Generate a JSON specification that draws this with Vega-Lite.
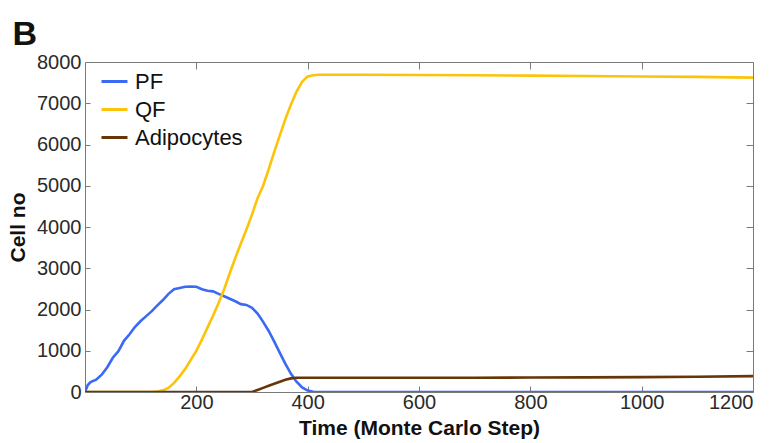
{
  "$schema": "https://vega.github.io/schema/vega-lite/v6.json",
  "width": 668,
  "height": 330,
  "padding": {"left": 7, "top": 18, "right": 27, "bottom": 4},
  "background": "white",
  "config": {
    "font": "Liberation Sans",
    "view": {"stroke": null},
    "axis": {"grid": false, "domainColor": "#7a7a7a", "tickColor": "#7a7a7a", "labelColor": "#2a2a2a", "titleColor": "#111111", "labelFont": "Liberation Sans", "titleFont": "Liberation Sans"}
  },
  "title": {"text": "B", "fontSize": 34, "fontWeight": "bold", "anchor": "start", "frame": "bounds", "offset": 0, "dx": 5, "color": "#111111"},
  "data": {
    "values": [
      {"t": 0, "PF": 0, "QF": 0, "Adipocytes": 0},
      {"t": 5, "PF": 170, "QF": 0, "Adipocytes": 0},
      {"t": 10, "PF": 240, "QF": 0, "Adipocytes": 0},
      {"t": 20, "PF": 300, "QF": 0, "Adipocytes": 0},
      {"t": 30, "PF": 420, "QF": 0, "Adipocytes": 0},
      {"t": 40, "PF": 600, "QF": 0, "Adipocytes": 0},
      {"t": 50, "PF": 830, "QF": 0, "Adipocytes": 0},
      {"t": 60, "PF": 990, "QF": 0, "Adipocytes": 0},
      {"t": 70, "PF": 1240, "QF": 0, "Adipocytes": 0},
      {"t": 80, "PF": 1400, "QF": 0, "Adipocytes": 0},
      {"t": 90, "PF": 1580, "QF": 0, "Adipocytes": 0},
      {"t": 100, "PF": 1720, "QF": 0, "Adipocytes": 0},
      {"t": 110, "PF": 1840, "QF": 0, "Adipocytes": 0},
      {"t": 120, "PF": 1960, "QF": 0, "Adipocytes": 0},
      {"t": 130, "PF": 2100, "QF": 10, "Adipocytes": 0},
      {"t": 140, "PF": 2230, "QF": 40, "Adipocytes": 0},
      {"t": 150, "PF": 2380, "QF": 100, "Adipocytes": 0},
      {"t": 160, "PF": 2490, "QF": 220, "Adipocytes": 0},
      {"t": 170, "PF": 2520, "QF": 380, "Adipocytes": 0},
      {"t": 180, "PF": 2550, "QF": 560, "Adipocytes": 0},
      {"t": 190, "PF": 2555, "QF": 780, "Adipocytes": 0},
      {"t": 200, "PF": 2550, "QF": 1000, "Adipocytes": 0},
      {"t": 210, "PF": 2490, "QF": 1270, "Adipocytes": 0},
      {"t": 220, "PF": 2455, "QF": 1560, "Adipocytes": 0},
      {"t": 230, "PF": 2440, "QF": 1850, "Adipocytes": 0},
      {"t": 240, "PF": 2380, "QF": 2160, "Adipocytes": 0},
      {"t": 250, "PF": 2320, "QF": 2490, "Adipocytes": 0},
      {"t": 260, "PF": 2260, "QF": 2880, "Adipocytes": 0},
      {"t": 270, "PF": 2200, "QF": 3250, "Adipocytes": 0},
      {"t": 280, "PF": 2130, "QF": 3600, "Adipocytes": 0},
      {"t": 290, "PF": 2110, "QF": 3940, "Adipocytes": 0},
      {"t": 300, "PF": 2040, "QF": 4300, "Adipocytes": 0},
      {"t": 310, "PF": 1900, "QF": 4700, "Adipocytes": 50},
      {"t": 320, "PF": 1700, "QF": 5000, "Adipocytes": 100},
      {"t": 330, "PF": 1480, "QF": 5400, "Adipocytes": 150},
      {"t": 340, "PF": 1220, "QF": 5820, "Adipocytes": 200},
      {"t": 350, "PF": 950, "QF": 6220, "Adipocytes": 250},
      {"t": 360, "PF": 680, "QF": 6620, "Adipocytes": 295},
      {"t": 370, "PF": 440, "QF": 6970, "Adipocytes": 330},
      {"t": 380, "PF": 250, "QF": 7280, "Adipocytes": 345},
      {"t": 390, "PF": 110, "QF": 7520, "Adipocytes": 345},
      {"t": 400, "PF": 35, "QF": 7650, "Adipocytes": 345},
      {"t": 410, "PF": 5, "QF": 7680, "Adipocytes": 345},
      {"t": 420, "PF": 0, "QF": 7690, "Adipocytes": 345},
      {"t": 500, "PF": 0, "QF": 7690, "Adipocytes": 345},
      {"t": 600, "PF": 0, "QF": 7685, "Adipocytes": 345},
      {"t": 700, "PF": 0, "QF": 7680, "Adipocytes": 347},
      {"t": 800, "PF": 0, "QF": 7670, "Adipocytes": 350},
      {"t": 900, "PF": 0, "QF": 7660, "Adipocytes": 355},
      {"t": 1000, "PF": 0, "QF": 7650, "Adipocytes": 360},
      {"t": 1100, "PF": 0, "QF": 7640, "Adipocytes": 370},
      {"t": 1200, "PF": 0, "QF": 7620, "Adipocytes": 385}
    ]
  },
  "transform": [{"fold": ["PF", "QF", "Adipocytes"], "as": ["series", "value"]}],
  "layer": [
    {
      "mark": {"type": "line", "strokeWidth": 2.6, "clip": true},
      "encoding": {
        "x": {"field": "t", "type": "quantitative", "scale": {"domain": [0, 1200], "nice": false},
          "axis": {"orient": "bottom", "values": [200, 400, 600, 800, 1000, 1200], "format": "d", "tickSize": -6, "labelFontSize": 20, "labelPadding": 6, "title": "Time (Monte Carlo Step)", "titleFontSize": 21, "titleFontWeight": "bold", "titlePadding": 5}},
        "y": {"field": "value", "type": "quantitative", "scale": {"domain": [0, 8000], "nice": false},
          "axis": {"orient": "left", "values": [0, 1000, 2000, 3000, 4000, 5000, 6000, 7000, 8000], "format": "d", "tickSize": -5, "labelFontSize": 20, "labelPadding": 9, "title": "Cell no", "titleFontSize": 21, "titleFontWeight": "bold", "titlePadding": 8}},
        "color": {"field": "series", "type": "nominal",
          "scale": {"domain": ["PF", "QF", "Adipocytes"], "range": ["#3a6af4", "#fbc40a", "#663508"]},
          "sort": ["PF", "QF", "Adipocytes"],
          "legend": {"title": null, "orient": "none", "legendX": 15, "legendY": 5, "symbolType": "stroke", "symbolSize": 676, "symbolStrokeWidth": 3, "labelFontSize": 22, "labelColor": "#111111", "labelFont": "Liberation Sans", "rowPadding": 2, "labelOffset": 6, "padding": 0}}
      }
    },
    {
      "mark": {"type": "point", "opacity": 0},
      "encoding": {
        "x": {"field": "t", "type": "quantitative", "axis": {"orient": "top", "values": [200, 400, 600, 800, 1000, 1200], "tickSize": -7, "labels": false, "title": null}},
        "y": {"field": "value", "type": "quantitative", "axis": {"orient": "right", "values": [1000, 2000, 3000, 4000, 5000, 6000, 7000], "tickSize": -7, "labels": false, "title": null}}
      }
    }
  ]
}
